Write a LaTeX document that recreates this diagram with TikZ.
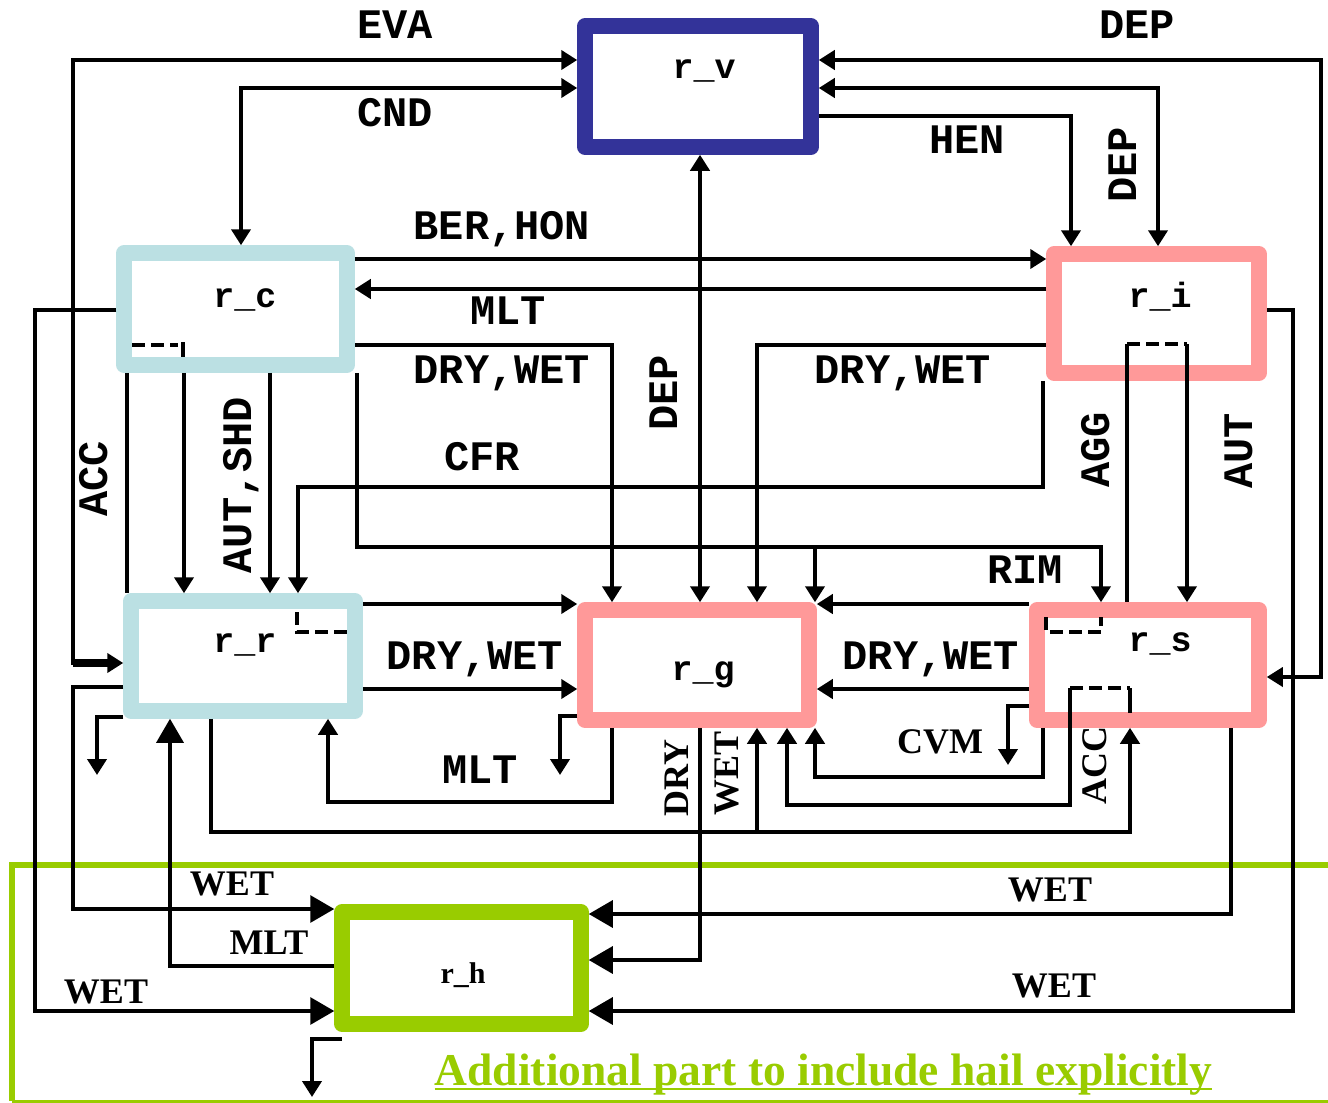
\documentclass[tikz,border=0pt]{standalone}
\usepackage{fontspec}
\setmainfont{Liberation Serif}
\newfontfamily\cour{Liberation Mono}
\usetikzlibrary{arrows.meta}
\definecolor{vblue}{RGB}{51,51,153}
\definecolor{cblue}{RGB}{187,224,227}
\definecolor{rpink}{RGB}{255,153,153}
\definecolor{lgreen}{RGB}{153,204,0}
\begin{document}
\begin{tikzpicture}[x=1pt,y=-1pt,
  rbox/.style={draw=#1, line width=15.5pt, fill=white, line join=round, outer sep=7.75pt, inner sep=0pt},
  ln/.style={line width=4.5pt},
  tn/.style={line width=3.2pt},
  ar/.style={-{Triangle[length=16pt,width=19pt]}},
  artwo/.style={{Triangle[length=16pt,width=19pt]}-{Triangle[length=16pt,width=19pt]}},
  bigar/.style={-{Triangle[length=24pt,width=27pt]}},
  dsh/.style={line width=4pt, dash pattern=on 13pt off 6pt},
  cl/.style={font=\cour\bfseries\fontsize{42}{42}\selectfont, inner sep=0pt, text depth=0pt},
  tl/.style={font=\bfseries\fontsize{36}{36}\selectfont, inner sep=0pt, text depth=0pt},
  nm/.style={font=\cour\bfseries\fontsize{35}{35}\selectfont, inner sep=0pt, anchor=base},
]
\useasboundingbox[fill=white] (0,0) rectangle (1328,1103);

% green frame
\draw[lgreen, line width=6.5pt] (1332,865) -- (12,865) -- (12,1101);
\draw[lgreen, line width=2.5pt] (12,1101.5) -- (1332,1101.5);

% boxes
\node[rbox=vblue, minimum width=226pt, minimum height=121pt] (rv) at (698,86.5) {};
\node[rbox=cblue, minimum width=223pt, minimum height=112pt] (rc) at (235.5,309) {};
\node[rbox=rpink, minimum width=205pt, minimum height=119pt] (ri) at (1156.5,313.5) {};
\node[rbox=cblue, minimum width=224pt, minimum height=110pt] (rr) at (243,656) {};
\node[rbox=rpink, minimum width=224pt, minimum height=110pt] (rg) at (697,665) {};
\node[rbox=rpink, minimum width=222pt, minimum height=110pt] (rs) at (1148,665) {};
\node[rbox=lgreen, minimum width=239pt, minimum height=112pt] (rh) at (461.5,968) {};

% helper coordinates
\coordinate (dj) at (1259,60);
\coordinate (riA) at (1127,344);
\coordinate (riB) at (1187,344);
\coordinate (rsA) at (1070,688);
\coordinate (rimB) at (815,547);
\coordinate (accB) at (757,832);
\coordinate (eth) at (110,663);
\coordinate (s1) at (97,775);
\coordinate (s2) at (560,775);
\coordinate (s3) at (1008,765);
\coordinate (s4a) at (342,1039);
\coordinate (s4) at (312,1097);

% top connectors
\draw[line width=8pt] (73,663) -- (eth);
\draw[ln, artwo] (rr.west|-0,663) -| (73,60) -- (rv.west|-0,60);
\draw[ln, artwo] (rc.north-|241,0) |- (rv.west|-0,88);
\draw[ln, ar] (rv.east|-0,116) -| (ri.north-|1071,0);
\draw[ln, artwo] (rv.east|-0,88) -| (ri.north-|1158,0);
\draw[ln, ar] (dj) -- (rv.east|-0,60);
\draw[line width=3.5pt, ar] (dj) -| (1321,677) -- (rs.east|-0,677);

% r_c <-> r_i
\draw[ln, ar] (rc.east|-0,259) -- (ri.west|-0,259);
\draw[ln, ar] (ri.west|-0,289) -- (rc.east|-0,289);

% to r_g from top
\draw[ln, ar] (rc.east|-0,345) -| (rg.north-|612,0);
\draw[ln, ar] (ri.west|-0,345) -| (rg.north-|757,0);
\draw[ln, artwo] (rv.south-|700,0) -- (rg.north-|700,0);
\draw[ln, ar] (ri.south-|1043,0) -- (1043,487) -| (rr.north-|298,0);
\draw[ln, ar] (rc.south-|357,0) |- (1101,547) -- (rs.north-|1101,0);
\draw[ln, ar] (rimB) -- (rg.north-|815,0);

% r_c -> r_r
\draw[ln, ar] (rc.south-|184,0) -- (rr.north-|184,0);
\draw[ln, ar] (rc.south-|270,0) -- (rr.north-|270,0);
\draw[ln] (rc.south-|127,0) -- (rr.north-|127,0);

% r_i -> r_s
\draw[ln] (riA) -- (rs.north-|1127,0);
\draw[ln, ar] (riB) -- (rs.north-|1187,0);

% middle row
\draw[ln, ar] (rr.east|-0,604) -- (rg.west|-0,604);
\draw[ln, ar] (rr.east|-0,689) -- (rg.west|-0,689);
\draw[ln, ar] (rs.west|-0,604) -- (rg.east|-0,604);
\draw[ln, ar] (rs.west|-0,689) -- (rg.east|-0,689);

% below middle row
\draw[ln, ar] (rg.south-|612,0) |- (328,802) -- (rr.south-|328,0);
\draw[ln, ar] (rr.south-|211,0) |- (1130,832) -- (rs.south-|1130,0);
\draw[ln, ar] (accB) -- (rg.south-|757,0);
\draw[ln, ar] (rsA) |- (787,805) -- (rg.south-|787,0);
\draw[ln, ar] (rs.south-|1043,0) |- (815,777) -- (rg.south-|815,0);

% sinks
\draw[ln, ar] (rr.west|-0,717) -| (s1);
\draw[ln, ar] (rg.west|-0,716) -| (s2);
\draw[ln, ar] (rs.west|-0,706) -| (s3);
\draw[ln, ar] (s4a) -| (s4);

% hail connectors
\draw[tn, bigar] (rr.west|-0,687) -| (73,909) -- (rh.west|-0,909);
\draw[tn, bigar] (rc.west|-0,310) -| (35,1011) -- (rh.west|-0,1011);
\draw[tn, bigar] (rh.west|-0,966) -| (rr.south-|170,0);
\draw[tn, bigar] (rg.south-|700,0) |- (rh.east|-0,960);
\draw[tn, bigar] (rs.south-|1231,0) |- (rh.east|-0,914);
\draw[tn, bigar] (ri.east|-0,310) -| (1293,1011) -- (rh.east|-0,1011);

% internal dashed marks
\draw[dsh] (132,345) -- (178,345);
\draw[ln] (183,342) -- (183,357);
\draw[dsh] (297,612) -- (297,632) -- (347,632);
\draw[dsh] (riA) -- (riB);
\draw[dsh] (1046,617) -- (1046,632) -- (1101,632) -- (1101,617);
\draw[dsh] (rsA) -- (1130,688);
\draw[ln] (1130,688) -- (1130,713);

% labels
\node[cl] (lEVA) at (395,25) {EVA};
\node[cl] (lDEPa) at (1137,25) {DEP};
\node[cl] (lCND) at (395,112) {CND};
\node[cl] (lHEN) at (967,140) {HEN};
\node[cl, rotate=90] (lDEPb) at (1123,165) {DEP};
\node[cl] (lBER) at (502,225) {BER,HON};
\node[cl] (lMLTa) at (508,311) {MLT};
\node[cl] (lDWa) at (502,370) {DRY,WET};
\node[cl] (lDWb) at (903,370) {DRY,WET};
\node[cl, rotate=90] (lDEPc) at (664,393) {DEP};
\node[cl] (lCFR) at (482,456) {CFR};
\node[cl, rotate=90] (lACCa) at (93,479) {ACC};
\node[cl, rotate=90] (lAS) at (237,485) {AUT,SHD};
\node[cl, rotate=90] (lAGG) at (1095,450) {AGG};
\node[cl, rotate=90] (lAUT) at (1239,451) {AUT};
\node[cl] (lRIM) at (1025,570) {RIM};
\node[cl] (lDWc) at (475,656) {DRY,WET};
\node[cl] (lDWd) at (931,656) {DRY,WET};
\node[cl] (lMLTb) at (480,770) {MLT};
\node[tl] (lCVM) at (940,742) {CVM};
\node[tl, rotate=90] (lACCb) at (1095,765) {ACC};
\node[tl, rotate=90] (lDRY) at (677,778) {DRY};
\node[tl, rotate=90] (lWET) at (727,773) {WET};
\node[tl] (lWa) at (232,884) {WET};
\node[tl] (lMLTc) at (269,943) {MLT};
\node[tl] (lWb) at (106,992) {WET};
\node[tl] (lWc) at (1050,890) {WET};
\node[tl] (lWd) at (1054,986) {WET};

% box names
\node[nm] (nv) at (704,78) {r\_v};
\node[nm] (nc) at (245,307) {r\_c};
\node[nm] (ni) at (1160,307) {r\_i};
\node[nm] (nr) at (245,652) {r\_r};
\node[nm] (ng) at (703,680) {r\_g};
\node[nm] (ns) at (1160,651) {r\_s};
\node[font=\bfseries\fontsize{30}{30}\selectfont, inner sep=0pt, anchor=base] (nh) at (463,983) {r\_h};

% title
\node[font=\bfseries\fontsize{45.5}{45.5}\selectfont, text=lgreen, anchor=base, inner sep=0pt] (title) at (823.5,1085) {Additional part to include hail explicitly};
\draw[lgreen, line width=2.5pt] ([yshift=-4pt]title.base west) -- ([yshift=-4pt]title.base east);
\end{tikzpicture}
\end{document}
